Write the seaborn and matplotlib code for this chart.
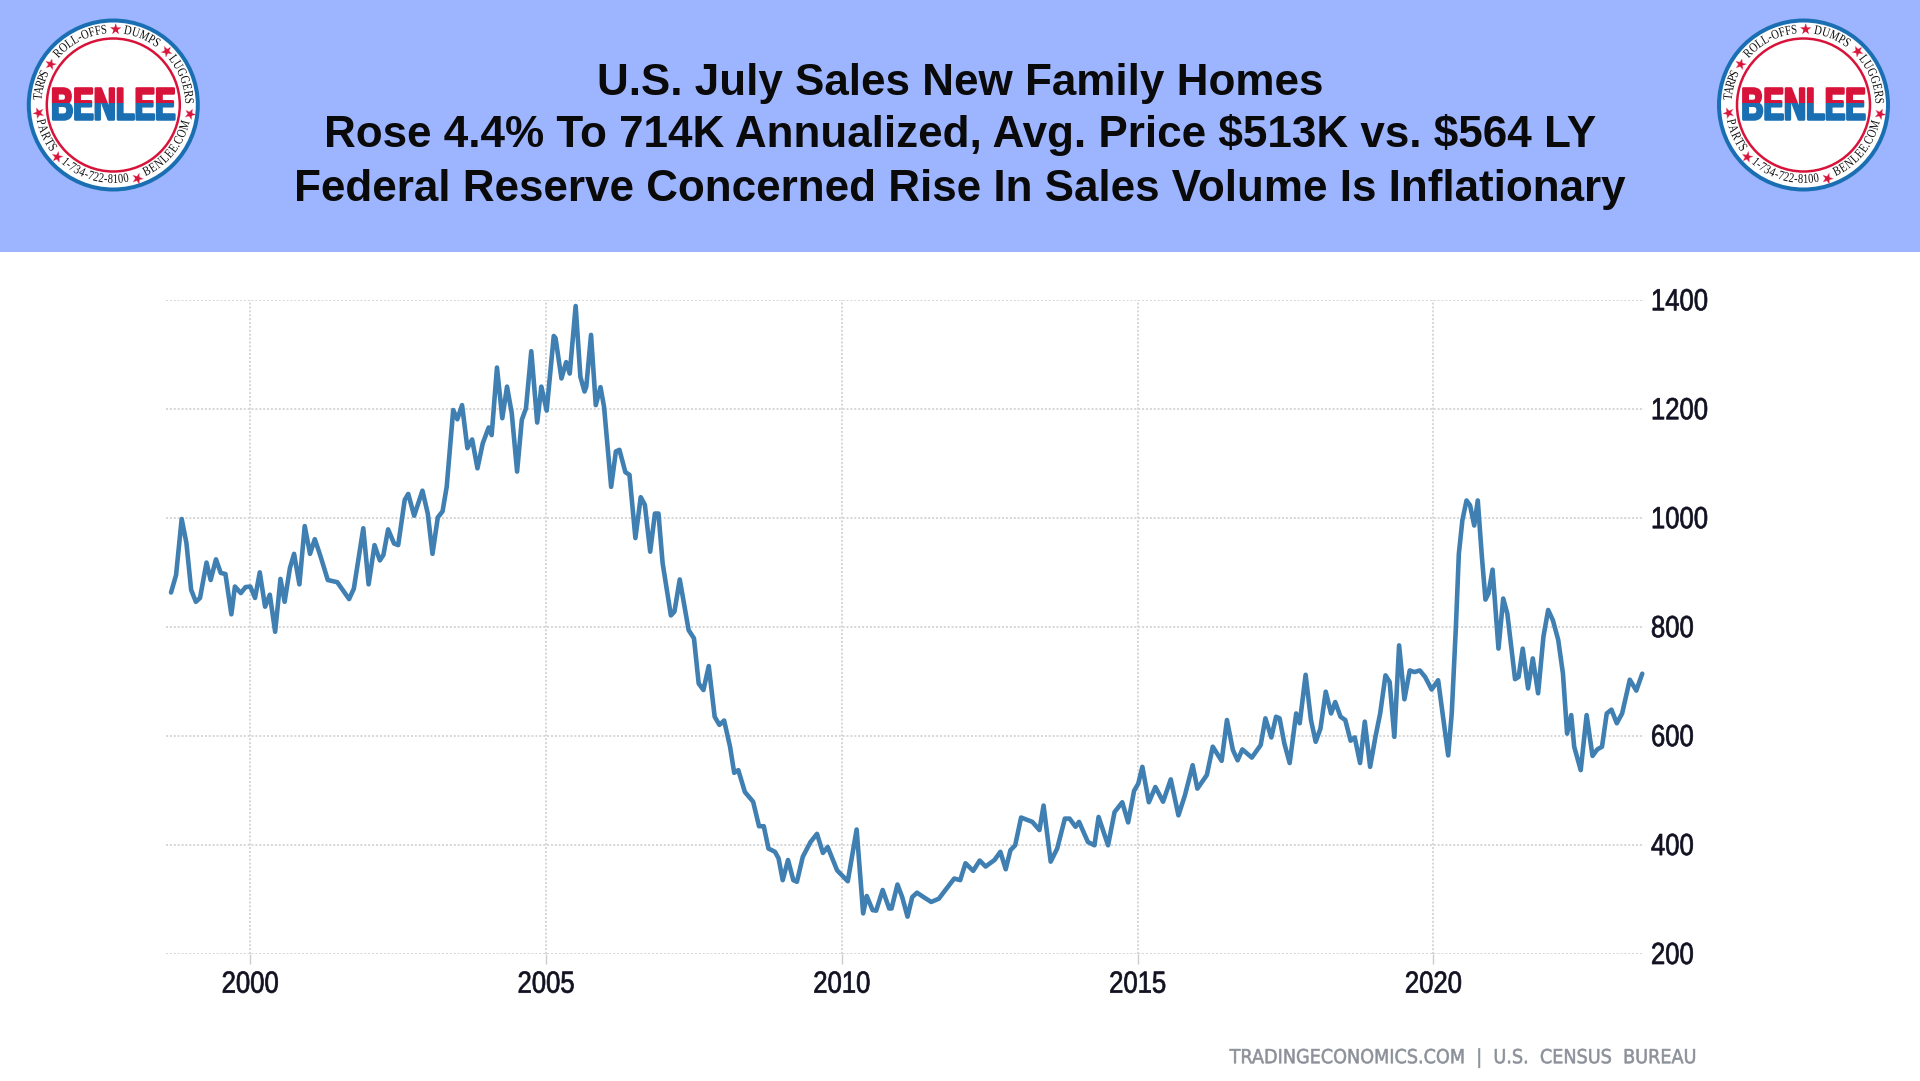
import numpy as np
import pandas as pd
import matplotlib
matplotlib.use("Agg")
import matplotlib.pyplot as plt
import seaborn as sns
from matplotlib.patches import Rectangle, Circle
from matplotlib.patheffects import AbstractPathEffect
from matplotlib.transforms import Affine2D
from matplotlib.textpath import TextPath
from matplotlib.font_manager import FontProperties

years = [
 1998.66,1998.745,1998.84,1998.92,1999.0,1999.08,1999.15,1999.26,1999.33,1999.42,1999.5,1999.58,1999.68,1999.74,1999.84,1999.92,
 2000.0,2000.08,2000.16,2000.25,2000.33,2000.42,2000.51,2000.58,2000.67,2000.74,2000.83,2000.92,
 2001.01,2001.09,2001.18,2001.31,2001.47,2001.67,2001.75,2001.91,
 2002.0,2002.1,2002.19,2002.25,2002.33,2002.43,2002.5,2002.61,2002.67,2002.77,2002.91,
 2003.0,2003.08,2003.17,2003.25,2003.32,2003.43,2003.5,2003.58,2003.67,2003.75,2003.84,2003.93,
 2004.03,2004.08,2004.17,2004.26,2004.34,2004.42,2004.51,2004.59,2004.66,2004.75,2004.85,2004.92,
 2005.01,2005.13,2005.16,2005.26,2005.34,2005.4,2005.5,2005.58,2005.65,2005.68,2005.76,2005.84,2005.92,2005.98,
 2006.1,2006.18,2006.24,2006.34,2006.41,2006.51,2006.6,2006.67,2006.76,2006.84,2006.9,2006.97,
 2007.11,2007.17,2007.26,2007.41,2007.5,2007.58,2007.66,2007.75,2007.85,2007.93,
 2008.01,2008.11,2008.18,2008.25,2008.36,2008.5,2008.6,2008.68,2008.76,2008.87,2008.93,
 2009.0,2009.09,2009.18,2009.24,2009.34,2009.47,2009.58,2009.68,2009.76,2009.92,
 2010.1,2010.25,2010.36,2010.42,2010.52,2010.58,2010.69,2010.8,2010.84,2010.94,
 2011.02,2011.11,2011.19,2011.27,2011.38,2011.51,2011.64,2011.73,2011.9,
 2012.0,2012.09,2012.22,2012.33,2012.43,2012.58,2012.68,2012.77,2012.85,2012.93,
 2013.03,2013.22,2013.34,2013.41,2013.53,2013.64,2013.77,2013.85,2013.95,
 2014.01,2014.16,2014.27,2014.34,2014.5,2014.61,2014.74,2014.84,2014.94,
 2015.01,2015.08,2015.19,2015.3,2015.43,2015.56,2015.69,2015.8,2015.93,
 2016.01,2016.17,2016.27,2016.42,2016.51,2016.61,2016.69,2016.77,2016.93,
 2017.08,2017.16,2017.26,2017.34,2017.4,2017.48,2017.57,2017.68,2017.74,2017.84,2017.93,
 2018.01,2018.09,2018.18,2018.27,2018.34,2018.43,2018.51,2018.6,2018.67,2018.76,2018.84,2018.93,
 2019.02,2019.1,2019.19,2019.26,2019.34,2019.42,2019.51,2019.6,2019.68,2019.77,2019.86,2019.97,
 2020.08,2020.14,2020.25,2020.31,2020.38,2020.43,2020.49,2020.56,2020.62,2020.69,2020.75,2020.82,2020.88,2020.93,
 2021.0,2021.1,2021.18,2021.25,2021.38,2021.44,2021.51,2021.6,2021.68,2021.77,2021.86,2021.94,
 2022.02,2022.11,2022.19,2022.26,2022.33,2022.38,2022.49,2022.59,2022.69,2022.77,2022.85,2022.93,
 2023.01,2023.1,2023.19,2023.32,2023.43,2023.53]
sales = [
 863,895,998,954,868,846,853,918,886,924,899,897,823,874,862,873,
 874,853,900,837,859,791,888,846,908,934,878,985,
 934,961,932,886,882,851,870,981,
 878,950,922,932,979,953,950,1033,1044,1004,1050,
 1008,934,1001,1012,1057,1198,1181,1207,1128,1144,1091,1137,
 1166,1152,1276,1183,1241,1192,1085,1180,1201,1306,1175,1241,
 1197,1334,1330,1256,1286,1265,1389,1259,1232,1241,1336,1207,1240,1204,
 1057,1122,1125,1084,1079,963,1038,1024,938,1008,1008,917,
 821,828,887,794,779,696,684,728,635,620,
 628,580,532,537,497,479,434,434,393,387,375,
 335,372,335,332,378,405,420,385,396,353,
 333,428,274,306,280,279,317,283,283,327,
 304,268,304,312,304,295,301,314,338,
 335,366,352,371,360,372,387,355,390,399,
 450,442,427,472,369,393,448,448,433,
 442,405,399,451,399,460,478,441,499,
 512,543,478,506,479,520,454,491,546,
 503,528,580,554,629,574,555,575,560,
 583,632,597,635,632,586,550,641,623,712,629,
 589,613,681,641,662,635,629,591,597,550,626,543,
 598,641,711,699,598,766,667,720,717,720,708,685,
 702,653,564,641,800,934,996,1032,1023,986,1032,928,850,861,
 905,760,852,824,704,708,760,687,742,678,782,831,
 812,776,714,604,638,580,537,638,563,575,580,641,
 648,623,641,703,683,714]
x_ticks = [2000, 2005, 2010, 2015, 2020]
y_ticks = [200, 400, 600, 800, 1000, 1200, 1400]
title_lines = ["U.S. July Sales New Family Homes",
               "Rose 4.4% To 714K Annualized, Avg. Price \\$513K vs. \\$564 LY",
               "Federal Reserve Concerned Rise In Sales Volume Is Inflationary"]
source = "TRADINGECONOMICS.COM  |  U.S.  CENSUS  BUREAU"

sns.set_theme(style="white")
W, H = 1920, 1081
fig = plt.figure(figsize=(W/100, H/100), dpi=100, facecolor="white")

class Squeeze(AbstractPathEffect):
    """Condense glyphs along a direction about a pixel anchor, optional stroke."""
    def __init__(self, sx, px, py=0, rot=0, stroke=0, dy=0):
        super().__init__()
        self.t = (Affine2D().translate(-px, -py).rotate_deg(-rot).scale(sx, 1)
                  .rotate_deg(rot).translate(px, py + dy))
        self.stroke = stroke
    def draw_path(self, renderer, gc, tpath, affine, rgbFace=None):
        t = affine + self.t
        if self.stroke:
            g = renderer.new_gc()
            g.copy_properties(gc)
            g.set_foreground(rgbFace)
            g.set_linewidth(self.stroke)
            renderer.draw_path(g, tpath, t, rgbFace)
            g.restore()
        else:
            renderer.draw_path(gc, tpath, t, rgbFace)

ov = fig.add_axes([0, 0, 1, 1], zorder=0)
ov.set_xlim(0, W); ov.set_ylim(H, 0); ov.axis("off")
ov.add_patch(Rectangle((0, 0), W, 252, fc="#9db4ff", ec="none"))

title_y = [83, 135, 189]
for t, y in zip(title_lines, title_y):
    ov.text(960, y, t, ha="center", va="center", fontsize=31.7, fontweight="bold",
            family="Liberation Sans", color="#0a0a0a")

RED = "#d8133a"; BLUE = "#1a6fb2"
serif = FontProperties(family="Liberation Serif")
def arc_text(cx, cy, s, a0, a1, r=75):
    widths = np.array([TextPath((0, 0), ch, size=10, prop=serif).get_extents().width + 1.2 for ch in s])
    edges = np.concatenate([[0], np.cumsum(widths)]) / widths.sum()
    bottom = a0 > a1
    for i, ch in enumerate(s):
        a = a0 + (a1 - a0) * (edges[i] + edges[i+1]) / 2
        rad = np.radians(a)
        px, py = cx + r*np.sin(rad), cy - r*np.cos(rad)
        rot = -a + (180 if bottom else 0)
        tx = ov.text(px, py, ch, ha="center", va="center", rotation=rot, rotation_mode="anchor",
                     fontsize=9.5, family="Liberation Serif", color="#111111")
        dx, dy = ov.transData.transform((px, py))
        tx.set_path_effects([Squeeze(0.8, dx, dy, rot)])

def logo(cx, cy):
    ov.add_patch(Circle((cx, cy), 86.5, fc=BLUE, ec="none"))
    ov.add_patch(Circle((cx, cy), 82.5, fc="white", ec="none"))
    ov.add_patch(Circle((cx, cy), 66.5, fc="white", ec=RED, lw=1.8))
    arc_text(cx, cy, "TARPS", 274, 296)
    arc_text(cx, cy, "ROLL-OFFS", -50, -5)
    arc_text(cx, cy, "DUMPS", 8, 37)
    arc_text(cx, cy, "LUGGERS", 50, 89)
    arc_text(cx, cy, "BENLEE.COM", 156, 102)
    arc_text(cx, cy, "1-734-722-8100", 222, 168)
    arc_text(cx, cy, "PARTS", 259, 233)
    for a in [-57, 1, 44, 96, 162, 228, 265]:
        rad = np.radians(a)
        ov.text(cx + 75*np.sin(rad), cy - 75*np.cos(rad), "★", ha="center", va="center",
                rotation=-a, rotation_mode="anchor", fontsize=10.5, family="DejaVu Sans", color=RED)
    split = cy - 2
    for col, y0, h in [(RED, split-30, 30), (BLUE, split, 30)]:
        clip = Rectangle((cx-70, y0), 140, h, transform=ov.transData)
        tx = ov.text(cx, cy+3, "BENLEE", ha="center", va="center", fontsize=32.5, fontweight="bold",
                     family="Liberation Sans", color=col, clip_on=True)
        tx.set_clip_path(clip)
        tx.set_path_effects([Squeeze(0.68, *ov.transData.transform((cx, cy)), stroke=1.8)])

logo(113.3, 105)
logo(1803.5, 105)

ft = ov.text(1698, 1058, source, ha="right", va="center", fontsize=14, family="DejaVu Sans", color="#8b9099")
ft.set_path_effects([Squeeze(0.907, *ov.transData.transform((1698, 1058)), stroke=0.4)])

ax = fig.add_axes([166/W, 1 - 953.7/H, (1644-166)/W, (953.7-300)/H], zorder=1)
ax.patch.set_alpha(0)
df = pd.DataFrame({"year": years, "sales": sales})
sns.lineplot(data=df, x="year", y="sales", ax=ax, estimator=None, sort=False, color="#3f7fb1",
             linewidth=3.3, clip_on=False, zorder=3, solid_joinstyle="round", solid_capstyle="round")
ax.set_xlim(1998.575, 2023.56)
ax.set_ylim(200, 1400)
ax.set_xlabel(""); ax.set_ylabel("")
for s in ax.spines.values():
    s.set_visible(False)
ax.set_xticks(x_ticks); ax.set_yticks(y_ticks)
ax.grid(True, color="#d6d6d6", linestyle=(0, (1, 1)), linewidth=1.4)
ax.set_axisbelow(True)
ax.yaxis.tick_right()
ax.tick_params(axis="x", length=7, width=1, color="#cccccc", pad=4.5, labelsize=22, labelcolor="#111122", bottom=True)
ax.tick_params(axis="y", length=0, pad=5, labelsize=22, labelcolor="#111122", right=False)
for lab, v in zip(ax.get_xticklabels(), x_ticks):
    lab.set_family("Liberation Sans")
    lab.set_path_effects([Squeeze(0.84, ax.transData.transform((v, 200))[0], stroke=0.5)])
left_px = ax.transData.transform((2023.56, 200))[0] + 5*100/72
for lab in ax.get_yticklabels():
    lab.set_family("Liberation Sans")
    lab.set_path_effects([Squeeze(0.84, left_px, stroke=0.5, dy=1.2)])

fig.savefig("out.png", dpi=100)
